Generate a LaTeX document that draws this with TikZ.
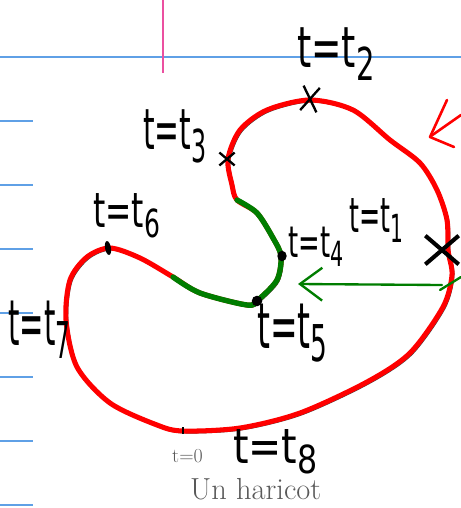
\documentclass[tikz,border=0pt]{standalone}
\usepackage{fontspec}
\usepackage{graphicx}
\usetikzlibrary{arrows.meta, shapes.misc, shapes.geometric}
\newfontfamily\handfont[FakeStretch=0.8]{DejaVu Sans}
\definecolor{penred}{RGB}{255,0,0}
\definecolor{pengreen}{RGB}{0,125,0}
\definecolor{ruleblue}{RGB}{95,160,230}
\definecolor{rulepink}{RGB}{235,80,160}
% width, height of the "t", subscript
\newcommand{\tlab}[3]{\resizebox{#1}{#2}{t=t\raisebox{-0.22em}{\scalebox{0.8}{#3}}}}

\begin{document}
\begin{tikzpicture}[
    x=0.03cm, y=-0.03cm,
    rule/.style      = {draw=ruleblue, line width=1.1pt},
    margin/.style    = {draw=rulepink, line width=1.3pt},
    bean/.style      = {draw=black!75, line width=1.8pt},
    redpen/.style    = {draw=penred, line width=4.3pt, line cap=round, line join=round},
    greenpen/.style  = {draw=pengreen, line width=4.6pt, line cap=round},
    greenarrow/.style = {draw=pengreen, line width=2pt, line cap=round,
                        -{Straight Barb[length=19pt, width=28pt, line width=2pt]}},
    xmark/.style     = {cross out, draw=black, line width=2pt, inner sep=0pt},
    dot/.style       = {ellipse, fill=black, inner sep=0pt},
    hand/.style      = {font=\handfont\fontsize{40}{44}\selectfont,
                        anchor=base west, inner sep=0pt},
    print/.style     = {text=black!65, anchor=base west, inner sep=0pt},
]
\useasboundingbox (0,0) rectangle (461,508);

%% ============================================================
%% NOTEBOOK RULING
%% ============================================================
\draw[rule] (0,57) -- (461,57);
\foreach \y in {121,185,249,313,377,441,505}
    \draw[rule] (0,\y) -- (33,\y);
\draw[margin] (163,0) -- (163,73);

%% ============================================================
%% THE BEAN (black print, red pen over it)
%% ============================================================
\foreach \sty/\dx in {bean/1.2, redpen/0}
    \draw[\sty, xshift=\dx pt, yshift=-\dx pt] plot[smooth cycle] coordinates {
        (183,431) (240,428) (300,413) (367,382) (410,353) (443,307)
        (452,275) (448,250) (447,220) (437,190) (420,163) (390,140)
        (353,110) (310,100) (267,110) (240,130) (228,159) (232,185)
        (237,200) (257,213) (273,238) (281,256) (277,280) (258,300)
        (247,305) (200,293) (173,277) (140,258) (110,248) (87,257)
        (70,280) (66,320) (77,367) (110,403) (157,425)};

%% green part of the curve
\draw[greenpen] plot[smooth] coordinates {
    (237,200) (257,213) (273,238) (281,256) (277,280) (258,300)
    (247,305) (200,293) (173,277)};

%% ============================================================
%% MARKS ON THE CURVE
%% ============================================================
\node[xmark, minimum width=12pt, minimum height=19pt, rotate=-8] (m2) at (310,99) {};
\node[xmark, minimum width=11pt, minimum height=9pt] (m3) at (227,159) {};
\node[xmark, line width=3.5pt, minimum width=25pt, minimum height=21pt] (m1) at (442,250) {};
\node[dot, minimum width=8pt, minimum height=9pt] (d4) at (282,256) {};
\node[dot, minimum width=9pt, minimum height=9pt] (d5) at (257,301) {};
\node[dot, minimum width=5pt, minimum height=12pt, rotate=10] (d6) at (108,248) {};
\draw[black, line width=1pt] (183,427) -- (183,434);

%% ============================================================
%% ARROWS
%% ============================================================
\coordinate (gTail) at (442,285);
\coordinate (gTip)  at (298,284);
\draw[greenarrow] (gTail) -- (gTip);
\draw[greenpen, line width=2pt] (440,290) -- (461,277);

\coordinate (rTail) at (461,115);
\coordinate (rTip)  at (431,136);
\draw[redpen, line width=2.2pt] (rTail) -- (rTip);
\draw[redpen, line width=2.2pt] (447,100) -- (430,137) -- (454,147);

%% ============================================================
%% LABELS
%% ============================================================
\node[hand] (l2) at (297,68)  {\tlab{66pt}{34pt}{2}};
\node[hand] (l3) at (143,150) {\tlab{54pt}{34pt}{3}};
\node[hand] (l6) at (93,227)  {\tlab{57pt}{29pt}{6}};
\node[hand] (l7) at (8,345)   {\tlab{53pt}{38pt}{7}};
\node[hand] (l4) at (288,257) {\tlab{47pt}{26pt}{4}};
\node[hand] (l1) at (349,232) {\tlab{46pt}{29pt}{1}};
\node[hand] (l5) at (257,348) {\tlab{60pt}{38pt}{5}};
\node[hand] (l8) at (233,463) {\tlab{72pt}{29pt}{8}};

\node[print, font=\fontsize{17}{20}\selectfont] (t0) at (172,462) {t=0};
\node[print, font=\fontsize{26}{30}\selectfont] (cap) at (190,499) {Un haricot};

\end{tikzpicture}
\end{document}
